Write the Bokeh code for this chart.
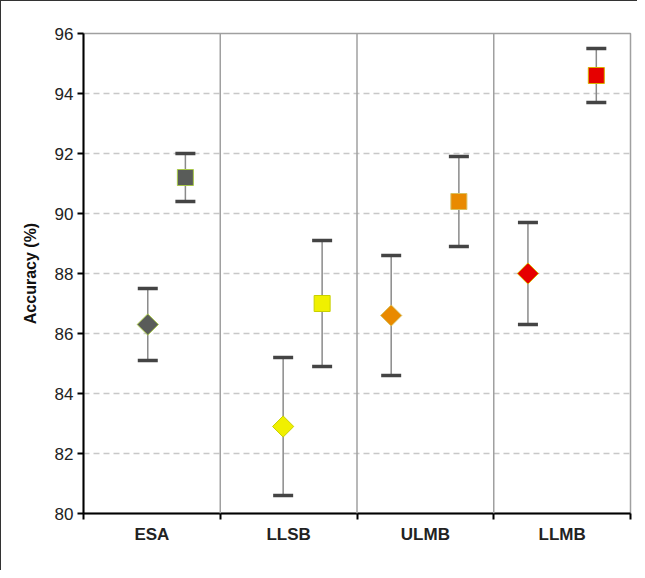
import math
from bokeh.plotting import figure
from bokeh.models import (ColumnDataSource, FixedTicker, Whisker, TeeHead, Span)
from bokeh.embed import file_html
from bokeh.resources import INLINE

# ---- data ----
categories = ["ESA", "LLSB", "ULMB", "LLMB"]
diamond_mean = [86.3, 82.9, 86.6, 88.0]
diamond_low = [85.1, 80.6, 84.6, 86.3]
diamond_high = [87.5, 85.2, 88.6, 89.7]
square_mean = [91.2, 87.0, 90.4, 94.6]
square_low = [90.4, 84.9, 88.9, 93.7]
square_high = [92.0, 89.1, 91.9, 95.5]
diamond_offset = [0.47, 0.46, 0.25, 0.25]
square_offset = [0.745, 0.745, 0.745, 0.75]
fill_colors = ["#595c59", "#f0f000", "#e98a00", "#e60000"]
edge_colors = ["#a8c84a", "#c8d000", "#d8c060", "#d8b000"]
y_ticks = [80, 82, 84, 86, 88, 90, 92, 94, 96]

n = len(categories)
xd = [i + o for i, o in enumerate(diamond_offset)]
xs = [i + o for i, o in enumerate(square_offset)]

src_d = ColumnDataSource(dict(x=xd, y=diamond_mean, lo=diamond_low, hi=diamond_high,
                              fc=fill_colors, ec=edge_colors))
src_s = ColumnDataSource(dict(x=xs, y=square_mean, lo=square_low, hi=square_high,
                              fc=fill_colors, ec=edge_colors))

p = figure(width=637, height=570, x_range=(0, n), y_range=(80, 96),
           output_backend="svg", toolbar_location=None,
           min_border_left=82, min_border_right=8, min_border_top=32, min_border_bottom=58)
p.styles = {"border-top": "1.5px solid #333", "border-left": "1.5px solid #333"}

p.outline_line_color = "#a0a0a0"
p.outline_line_width = 1.5

# grid
p.xgrid.grid_line_color = None
p.ygrid.ticker = FixedTicker(ticks=y_ticks[1:-1])
p.ygrid.grid_line_color = "#c8c8c8"
p.ygrid.grid_line_dash = "6 4"
p.ygrid.grid_line_width = 1.5

# category separators
for i in range(1, n):
    p.add_layout(Span(location=i, dimension="height", line_color="#a0a0a0", line_width=1.5))

# y axis
p.yaxis.ticker = FixedTicker(ticks=y_ticks)
p.yaxis.axis_line_color = "black"
p.yaxis.axis_line_width = 2
p.yaxis.major_tick_line_width = 2
p.yaxis.major_tick_out = 6
p.yaxis.major_tick_in = 0
p.yaxis.minor_tick_line_color = None
p.yaxis.major_label_text_font = "Liberation Sans"
p.yaxis.major_label_text_font_size = "17px"
p.yaxis.major_label_text_color = "#222222"
p.yaxis.major_label_standoff = 4
p.yaxis.axis_label = "Accuracy (%)"
p.yaxis.axis_label_text_font = "Liberation Sans"
p.yaxis.axis_label_text_font_style = "bold"
p.yaxis.axis_label_text_font_size = "16px"
p.yaxis.axis_label_text_color = "#111111"
p.yaxis.axis_label_standoff = 13

# x axis
centers = [i + 0.5 for i in range(n)]
p.xaxis.ticker = FixedTicker(ticks=centers, minor_ticks=list(range(n + 1)))
p.xaxis.major_label_overrides = {c: lab for c, lab in zip(centers, categories)}
p.xaxis.major_tick_line_color = None
p.xaxis.minor_tick_line_color = "black"
p.xaxis.minor_tick_line_width = 2
p.xaxis.minor_tick_out = 6
p.xaxis.minor_tick_in = 0
p.xaxis.axis_line_color = "black"
p.xaxis.axis_line_width = 2
p.xaxis.major_label_text_font = "Liberation Sans"
p.xaxis.major_label_text_font_style = "bold"
p.xaxis.major_label_text_font_size = "17px"
p.xaxis.major_label_text_color = "#222222"
p.xaxis.major_label_standoff = 5

# error bars
for src in (src_d, src_s):
    w = Whisker(source=src, base="x", upper="hi", lower="lo", dimension="height",
                line_color="#8a8a8a", line_width=1.5,
                upper_head=TeeHead(size=20, line_color="#444444", line_width=3.5),
                lower_head=TeeHead(size=20, line_color="#444444", line_width=3.5))
    p.add_layout(w)

p.scatter("x", "y", source=src_d, marker="square", angle=math.pi / 4, size=15,
          fill_color="fc", line_color="ec", line_width=1)
p.scatter("x", "y", source=src_s, marker="square", size=16,
          fill_color="fc", line_color="ec", line_width=1)

open("out.html", "w").write(file_html(p, INLINE))
